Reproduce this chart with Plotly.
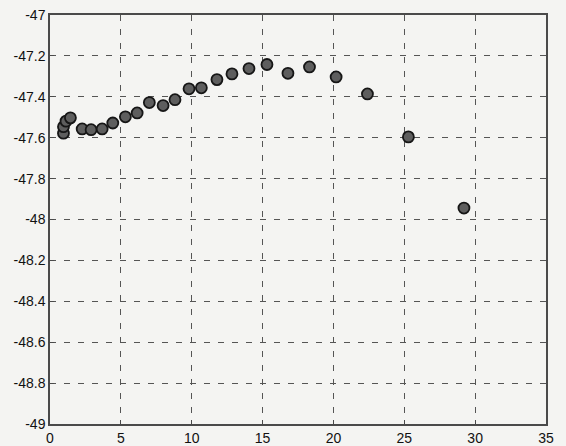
import plotly.graph_objects as go

x_vals = [0.95, 0.95, 1.13, 1.44, 2.27, 2.90, 3.68, 4.43, 5.32, 6.15, 7.01, 7.98,
          8.82, 9.81, 10.68, 11.78, 12.84, 14.04, 15.31, 16.79, 18.31, 20.19,
          22.40, 25.29, 29.21]
y_vals = [-47.578, -47.546, -47.519, -47.503, -47.557, -47.561, -47.557, -47.528,
          -47.498, -47.479, -47.428, -47.443, -47.414, -47.361, -47.356, -47.316,
          -47.288, -47.262, -47.242, -47.285, -47.254, -47.303, -47.386, -47.596,
          -47.944]

x_ticks = [0, 5, 10, 15, 20, 25, 30, 35]
x_tick_labels = ["0", "5", "10", "15", "20", "25", "30", "35"]
y_ticks = [-47, -47.2, -47.4, -47.6, -47.8, -48, -48.2, -48.4, -48.6, -48.8, -49]
y_tick_labels = ["-47", "-47.2", "-47.4", "-47.6", "-47.8", "-48", "-48.2",
                 "-48.4", "-48.6", "-48.8", "-49"]

fig = go.Figure()
fig.add_trace(go.Scatter(
    x=x_vals, y=y_vals, mode="markers",
    marker=dict(symbol="circle", size=11, color="#5e5e5e",
                line=dict(color="#161616", width=1.8)),
    showlegend=False,
))

axis_common = dict(
    showline=True, linecolor="#4a4a4a", linewidth=1.5, mirror=True,
    showgrid=True, gridcolor="#555555", gridwidth=1.2, griddash="6px,8px",
    zeroline=False, ticks="inside", ticklen=4, tickcolor="#4a4a4a",
    tickfont=dict(family="Liberation Sans, Arial", size=14, color="#111111"),
    automargin=False,
)

fig.update_xaxes(range=[0, 35], tickvals=x_ticks, ticktext=x_tick_labels, **axis_common)
fig.update_yaxes(range=[-49, -47], tickvals=y_ticks, ticktext=y_tick_labels, **axis_common)

fig.update_layout(
    width=566, height=446,
    margin=dict(l=50, r=20, t=15, b=22, pad=0, autoexpand=False),
    paper_bgcolor="#f4f4f2", plot_bgcolor="#f4f4f2",
)

fig.write_html(
    "out.html",
    config={"displayModeBar": False},
    post_script="document.body.style.margin='0';document.body.style.overflow='hidden';document.body.style.background='#f4f4f2';",
)
